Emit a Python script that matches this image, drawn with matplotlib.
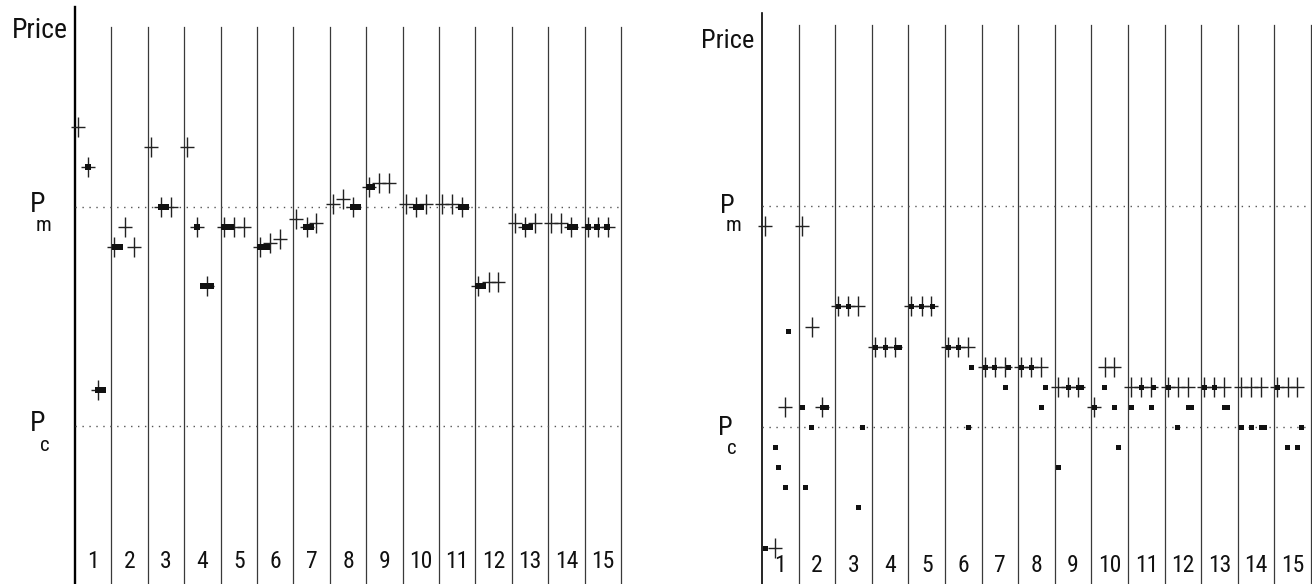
import numpy as np
import matplotlib
matplotlib.use("Agg")
import matplotlib.pyplot as plt
from matplotlib.path import Path
from matplotlib import font_manager as fm
from matplotlib.transforms import blended_transform_factory

# ---------------- data ----------------
PERIODS = list(range(1, 16))
PERIOD_LABELS = [str(p) for p in PERIODS]
PM, PC = 11, 0  # monopoly / competitive price levels

# posted prices (three sellers per period), left panel
LEFT_POSTED = [
    [15, 13, 1.8],
    [9, 10, 9],
    [14, 11, 11],
    [14, 10, 7],
    [10, 10, 10],
    [9, 9.2, 9.4],
    [10.4, 10, 10.2],
    [11.15, 11.4, 11],
    [12, 12.17, 12.17],
    [11.15, 11, 11.15],
    [11.15, 11.15, 11],
    [7, 7.2, 7.2],
    [10.2, 10, 10.2],
    [10.2, 10.2, 10],
    [10, 10, 10],
]
# transactions, left panel: period, position within period, units, price
LEFT_SALE_PERIOD = [1, 1, 2, 3, 4, 4, 5, 6, 7, 8, 9, 10, 11, 12, 13, 14, 15, 15, 15]
LEFT_SALE_POS = [0.36, 0.64, 0.09, 0.37, 0.34, 0.52, 0.08, 0.08, 0.35, 0.63,
                 0.09, 0.36, 0.61, 0.07, 0.35, 0.61, 0.08, 0.33, 0.61]
LEFT_SALE_UNITS = [1, 3, 3, 3, 1, 4, 4, 4, 3, 3, 2, 3, 3, 3, 3, 3, 1, 1, 1]
LEFT_SALE_PRICE = [13, 1.8, 9, 11, 10, 7, 10, 9, 10, 11, 12, 11, 11, 7, 10, 10, 10, 10, 10]

# posted prices, right panel
RIGHT_POSTED = [
    [10, -6, 1],
    [10, 5, 1],
    [6, 6, 6],
    [4, 4, 4],
    [6, 6, 6],
    [4, 4, 4],
    [3, 3, 3],
    [3, 3, 3],
    [2, 2, 2],
    [1, 3, 3],
    [2, 2, 2],
    [2, 2, 2],
    [2, 2, 2],
    [2, 2, 2],
    [2, 2, 2],
]
# transactions, right panel: period, position within period, price
RIGHT_SALE_PERIOD = [1] * 5 + [2] * 5 + [3] * 4 + [4] * 4 + [5] * 3 + [6] * 4 + [7] * 4 + \
                    [8] * 4 + [9] * 4 + [10] * 4 + [11] * 4 + [12] * 4 + [13] * 4 + [14] * 4 + [15] * 4
RIGHT_SALE_POS = [0.08, 0.35, 0.44, 0.63, 0.72,
                  0.08, 0.17, 0.35, 0.63, 0.74,
                  0.08, 0.35, 0.63, 0.72,
                  0.08, 0.35, 0.67, 0.73,
                  0.08, 0.35, 0.64,
                  0.08, 0.35, 0.63, 0.72,
                  0.08, 0.35, 0.63, 0.72,
                  0.08, 0.35, 0.63, 0.72,
                  0.08, 0.35, 0.63, 0.71,
                  0.08, 0.35, 0.63, 0.72,
                  0.08, 0.35, 0.63, 0.69,
                  0.08, 0.35, 0.63, 0.71,
                  0.08, 0.35, 0.63, 0.71,
                  0.08, 0.35, 0.63, 0.71,
                  0.08, 0.35, 0.63, 0.72]
RIGHT_SALE_PRICE = [-6, -1, -2, -3, 4.8,
                    1, -3, 0, 1, 1,
                    6, 6, -4, 0,
                    4, 4, 4, 4,
                    6, 6, 6,
                    4, 4, 0, 3,
                    3, 3, 2, 3,
                    3, 3, 1, 2,
                    -2, 2, 2, 2,
                    1, 2, 1, -1,
                    1, 2, 1, 2,
                    2, 0, 1, 1,
                    2, 2, 1, 1,
                    0, 0, 0, 0,
                    2, -1, -1, 0]

SLOT_POS = [0.08, 0.36, 0.63]

# ---------------- style ----------------
W, H = 1312, 584


def pick_font():
    cands = [("Liberation Sans Narrow", "normal"), ("Roboto Condensed", "normal"),
             ("Noto Sans", "condensed"), ("Open Sans", "condensed"),
             ("Noto Sans", "semi-condensed")]
    for fam, st in cands:
        try:
            path = fm.findfont(fm.FontProperties(family=fam, stretch=st), fallback_to_default=False)
        except Exception:
            continue
        low = path.lower()
        if "narrow" in low or "condensed" in low:
            return fam, st, True
    return "Liberation Sans", "normal", False


FONT, STRETCH, NARROW = pick_font()
plt.rcParams["font.family"] = [FONT, "DejaVu Sans"]
plt.rcParams["font.stretch"] = STRETCH
SHRINK = 1.0 if NARROW else 0.9

fig = plt.figure(figsize=(W / 100, H / 100), dpi=100)
fig.patch.set_facecolor("white")

cross_path = Path([(-0.72, 0), (0.72, 0), (0, -1), (0, 1)],
                  [Path.MOVETO, Path.LINETO, Path.MOVETO, Path.LINETO])


def fx(x):
    return x / W


def fy(y):
    return 1 - y / H


def make_panel(left_px, right_px, ylim, axis_top, col_top, axis_lw):
    ax = fig.add_axes([fx(left_px), 0, (right_px - left_px) / W, 1])
    ax.set_xlim(0, 15)
    ax.set_ylim(*ylim)
    ax.axis("off")
    ax.axvline(0, ymin=0, ymax=1 - axis_top / H, color="black", lw=axis_lw, clip_on=False, zorder=1)
    for k in range(1, 16):
        ax.axvline(k, ymin=0, ymax=1 - col_top / H, color="#3a3a3a", lw=0.9, clip_on=False, zorder=1)
    ax.hlines([PM, PC], 0, 15, colors="#555555", linestyles=(0, (1, 4)), lw=1.0, zorder=1)
    return ax


def draw_posted(ax, posted):
    xs, ys = [], []
    for p, row in zip(PERIODS, posted):
        for s, v in zip(SLOT_POS, row):
            xs.append(p - 1 + s)
            ys.append(v)
    ax.plot(xs, ys, linestyle="none", marker=cross_path, markersize=13.7,
            markeredgewidth=1.0, markeredgecolor="#222222", markerfacecolor="none",
            zorder=3, clip_on=False)


# ---------------- left panel ----------------
axL = make_panel(75, 621, (-7.924, 21.364), 7, 27, 1.7)
draw_posted(axL, LEFT_POSTED)
sx, sy = [], []
dx = 2.5 / 36.4
for p, pos, n, v in zip(LEFT_SALE_PERIOD, LEFT_SALE_POS, LEFT_SALE_UNITS, LEFT_SALE_PRICE):
    for j in range(n):
        sx.append(p - 1 + pos + j * dx)
        sy.append(v)
axL.plot(sx, sy, linestyle="none", marker="s", markersize=4.6, markeredgewidth=0,
         color="#111111", zorder=4)

# ---------------- right panel ----------------
axR = make_panel(762, 1311, (-7.815, 21.254), 13, 25, 1.2)
draw_posted(axR, RIGHT_POSTED)
rx = [p - 1 + pos for p, pos in zip(RIGHT_SALE_PERIOD, RIGHT_SALE_POS)]
axR.plot(rx, RIGHT_SALE_PRICE, linestyle="none", marker="s", markersize=3.6,
         markeredgewidth=0, color="#111111", zorder=4)

# period numbers
for ax, base in ((axL, 568), (axR, 572)):
    tr = blended_transform_factory(ax.transData, ax.transAxes)
    for p, lab in zip(PERIODS, PERIOD_LABELS):
        ax.text(p - 0.5, 1 - base / H, lab, transform=tr, ha="center", va="baseline",
                fontsize=17 * SHRINK, color="#111111")

# labels
fig.text(fx(12), fy(38), "Price", fontsize=20 * SHRINK, ha="left", va="baseline", color="#111111")
fig.text(fx(701), fy(48), "Price", fontsize=19 * SHRINK, ha="left", va="baseline", color="#111111")

fig.text(fx(30), fy(212), "P", fontsize=20, ha="left", va="baseline", color="#111111")
fig.text(fx(36), fy(231), "m", fontsize=15, ha="left", va="baseline", color="#111111")
fig.text(fx(30), fy(431), "P", fontsize=20, ha="left", va="baseline", color="#111111")
fig.text(fx(40), fy(451), "c", fontsize=15, ha="left", va="baseline", color="#111111")

fig.text(fx(720), fy(213), "P", fontsize=19, ha="left", va="baseline", color="#111111")
fig.text(fx(726), fy(231), "m", fontsize=15, ha="left", va="baseline", color="#111111")
fig.text(fx(718), fy(435), "P", fontsize=19, ha="left", va="baseline", color="#111111")
fig.text(fx(727), fy(454), "c", fontsize=15, ha="left", va="baseline", color="#111111")

fig.savefig("out.png", dpi=100, facecolor="white")
